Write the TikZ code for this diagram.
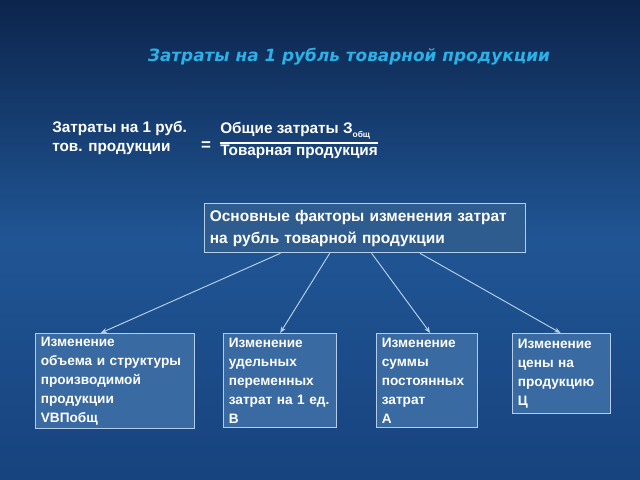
\documentclass[tikz,border=0pt]{standalone}
\usepackage{fontspec}
\setmainfont{Liberation Sans}
\newfontfamily\titlefont{DejaVu Sans}
\usetikzlibrary{arrows.meta, calc, positioning}

\definecolor{bgtop}{HTML}{0C254C}
\definecolor{bgmid}{HTML}{205594}
\definecolor{bgbot}{HTML}{17437E}
\definecolor{boxfill}{HTML}{3A6AA2}
\definecolor{mainfill}{HTML}{2F5C8E}
\definecolor{boxline}{HTML}{B4CDE8}
\definecolor{titlecol}{HTML}{2BB0E8}

\tikzset{
  factor/.style = {draw = boxline, line width = 0.9pt, fill = boxfill, anchor = north west,
                   inner xsep = 0.13cm, inner ysep = 0.08cm, align = left, text = white,
                   font = \fontsize{9.7}{13.6}\selectfont\bfseries},
  mainbox/.style = {factor, fill = mainfill, font = \fontsize{11}{15.6}\selectfont\bfseries},
  formula/.style = {text = white, font = \fontsize{10.9}{13.6}\selectfont\bfseries, inner sep = 0pt},
  arr/.style = {draw = boxline, line width = 0.7pt, -{Stealth[length = 4.5pt, width = 3.5pt]}}
}

\begin{document}
\begin{tikzpicture}[x = 0.025cm, y = -0.025cm]

% background
\shade[top color = bgtop, bottom color = bgbot, middle color = bgmid] (0, 0) rectangle (640, 480);
\useasboundingbox (0, 0) rectangle (640, 480);

% title
\node[text = titlecol, font = \titlefont\fontsize{12}{14}\selectfont\bfseries\itshape] (title) at (349, 57)
  {Затраты на 1 рубль товарной продукции};

% formula
\node[formula, anchor = north west, align = left] (lhs) at (52, 121) {Затраты на 1 руб.\\тов. продукции};
\node[formula, font = \fontsize{12}{14}\selectfont\bfseries] (eq) at (206, 146) {=};
\node[formula, anchor = south west] (num) at (220, 139) {Общие затраты З\raisebox{-0.4ex}{\fontsize{6}{6}\selectfont общ}};
\node[formula, anchor = north west] (den) at (220, 145) {Товарная продукция};
\draw[white, line width = 0.8pt] (den.north west) ++(0, -2) coordinate (barl) -- (barl -| den.north east);

% factors
\node[mainbox, text width = 7.765cm, minimum height = 1.225cm] (main) at (204, 203)
  {Основные факторы изменения затрат\\на рубль товарной продукции};

\node[factor, text width = 3.715cm, minimum height = 2.35cm] (b1) at (35, 333)
  {Изменение\\объема и структуры\\производимой\\продукции\\VBПобщ};
\node[factor, text width = 2.565cm, minimum height = 2.35cm] (b2) at (223, 333)
  {Изменение\\удельных\\переменных\\затрат на 1 ед.\\B};
\node[factor, text width = 2.265cm, minimum height = 2.35cm] (b3) at (376, 333)
  {Изменение\\суммы\\постоянных\\затрат\\А};
\node[factor, text width = 2.19cm, minimum height = 2.0cm] (b4) at (512, 333)
  {Изменение\\цены на\\продукцию\\Ц};

% arrows
\draw[arr] ($(main.south west)!0.237!(main.south east)$) -- ($(b1.north west)!0.41!(b1.north east)$);
\draw[arr] ($(main.south west)!0.39!(main.south east)$) -- ($(b2.north west)!0.5!(b2.north east)$);
\draw[arr] ($(main.south west)!0.52!(main.south east)$) -- ($(b3.north west)!0.53!(b3.north east)$);
\draw[arr] ($(main.south west)!0.67!(main.south east)$) -- ($(b4.north west)!0.49!(b4.north east)$);

\end{tikzpicture}
\end{document}
